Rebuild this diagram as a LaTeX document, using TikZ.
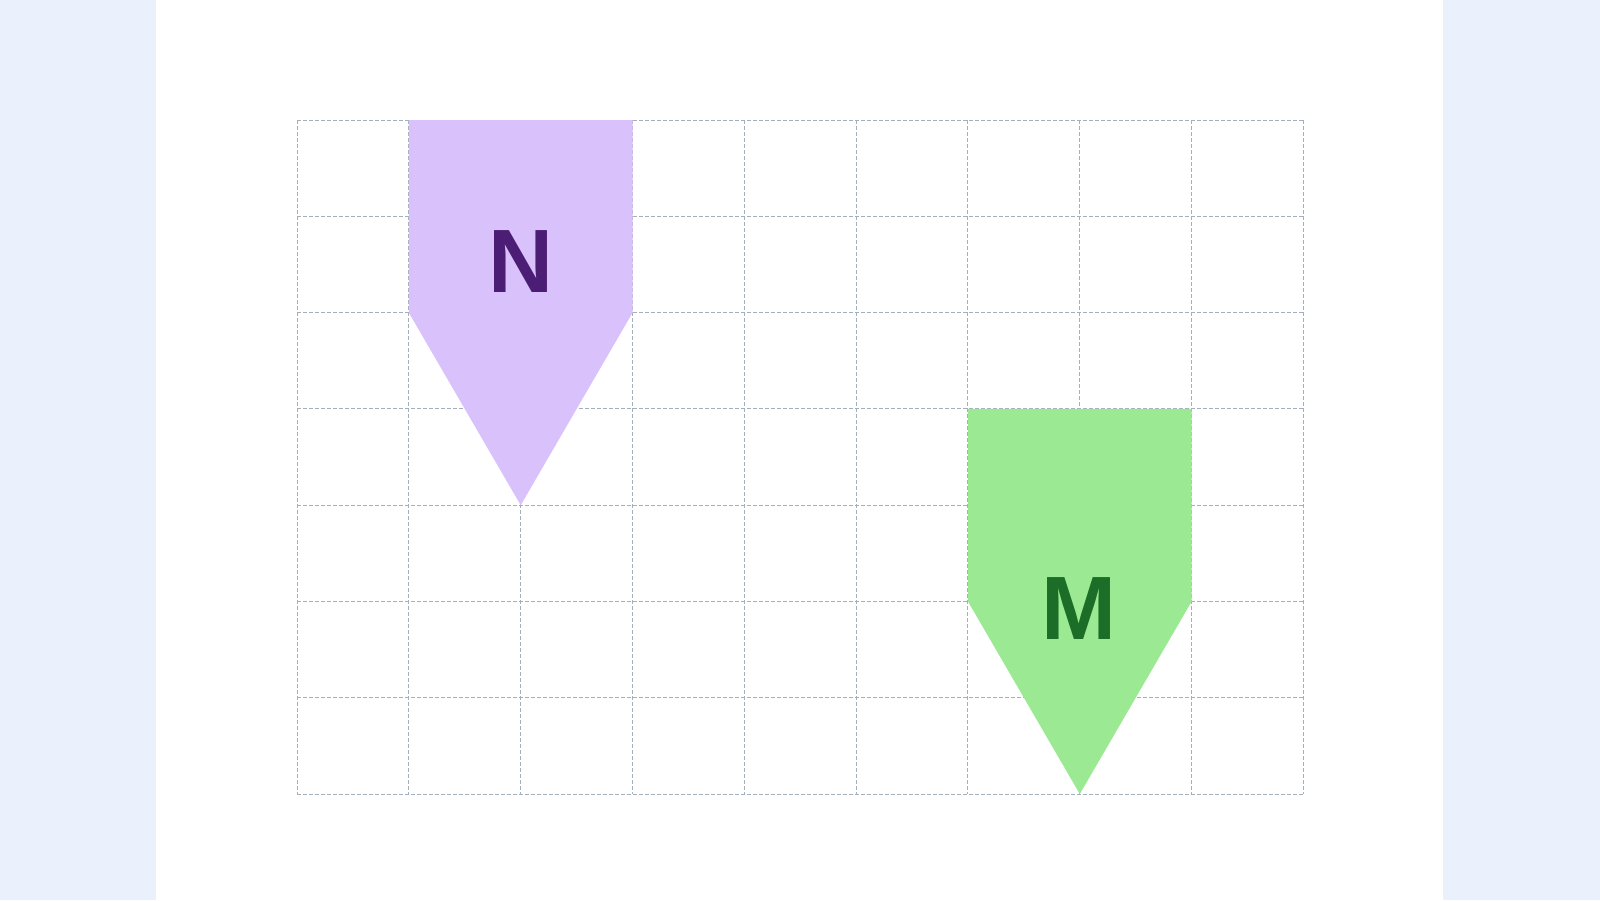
\documentclass[tikz,border=0pt]{standalone}
\usepackage{fontspec}
\setmainfont{Liberation Sans}
\definecolor{bgblue}{HTML}{EAF1FC}
\definecolor{gridc}{HTML}{A3AFBA}
\definecolor{purplefill}{HTML}{D9C2FB}
\definecolor{purpletext}{HTML}{4C1D74}
\definecolor{greenfill}{HTML}{9BEA93}
\definecolor{greentext}{HTML}{1C6D27}
\tikzset{
  gridline/.style={draw=gridc, line width=1pt, dash pattern=on 4pt off 2pt},
  bigletter/.style={font=\fontsize{90}{90}\selectfont\bfseries, inner sep=0pt, anchor=center}
}
\begin{document}
\begin{tikzpicture}[x=1pt,y=-1pt]
\useasboundingbox (0,0) rectangle (1600,900);
\fill[bgblue] (0,0) rectangle (1600,900);
\fill[white] (156,0) rectangle (1443,900);
% grid
\foreach \i in {0,...,9} {
  \draw[gridline] ({297+\i*111.8},120) -- ({297+\i*111.8},794);
}
\foreach \j in {0,...,7} {
  \draw[gridline] (297,{120+\j*96.29}) -- (1303.2,{120+\j*96.29});
}
% N arrow
\fill[purplefill] (408.8,120) -- (632.6,120) -- (632.6,312.6) -- (520.7,505.2) -- (408.8,312.6) -- cycle;
% M arrow
\fill[greenfill] (968.0,408.9) -- (1191.6,408.9) -- (1191.6,601.5) -- (1079.8,794) -- (968.0,601.5) -- cycle;
\node[bigletter, text=purpletext] (n) at (520.5,261.5) {N};
\node[bigletter, text=greentext] (m) at (1079,608.5) {M};
\end{tikzpicture}
\end{document}
